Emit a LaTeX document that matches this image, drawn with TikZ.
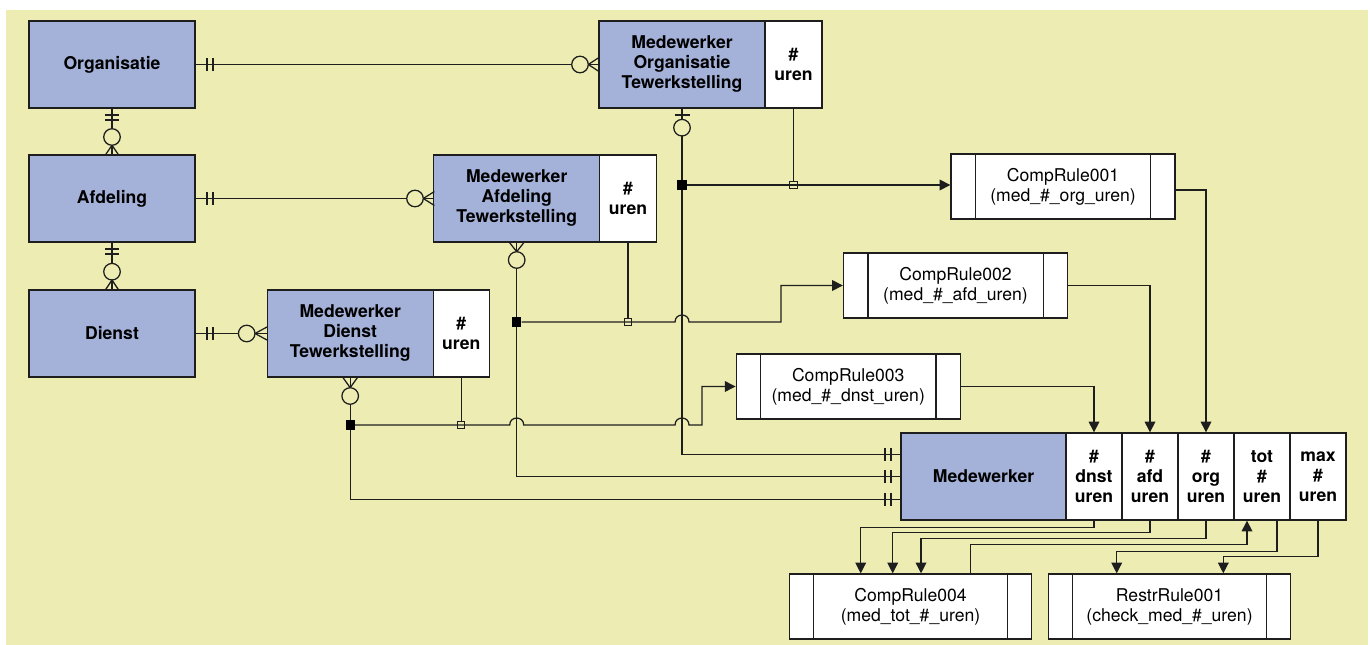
\documentclass[tikz,border=0pt]{standalone}
\usepackage{fontspec}
\setmainfont{TeX Gyre Heros}
\usetikzlibrary{arrows.meta,calc}
\definecolor{bgc}{RGB}{237,237,179}
\definecolor{entc}{RGB}{164,178,218}
\definecolor{linec}{RGB}{30,30,30}
\tikzset{
  base/.style={draw=linec, line width=1pt, inner sep=0pt, align=center, text=black, font=\fontsize{13.2}{15}\selectfont},
  ent/.style={base, fill=entc, font=\fontsize{13.2}{15}\selectfont\bfseries, minimum height=65.25pt},
  attr/.style={base, fill=white, font=\fontsize{13.2}{15}\selectfont\bfseries, minimum height=65.25pt},
  rulebox/.style={base, fill=white, minimum height=48.75pt},
  conn/.style={draw=linec, line width=0.95pt},
  arr/.style={conn, -{Triangle[length=8pt,width=8pt]}},
  crow/.style={draw=linec, line width=0.95pt},
  jfull/.style={fill=black, inner sep=0pt, minimum size=6.8pt},
  jhollow/.style={draw=linec, line width=0.7pt, inner sep=0pt, minimum size=5.6pt},
}
\newcommand\barsh[2]{\draw[crow] (#1,#2-6.5) -- (#1,#2+6.5);}
\newcommand\barsv[2]{\draw[crow] (#1-7,#2) -- (#1+7,#2);}
\newcommand\ringat[2]{\draw[crow,fill=bgc] (#1,#2) circle[radius=6.2pt];}
\begin{document}
\begin{tikzpicture}[x=0.75pt,y=-0.75pt]
\useasboundingbox (0,0) rectangle (1370,645);
\fill[white] (0,0) rectangle (1370,645);
\fill[bgc] (6,10) rectangle (1368,645);

% entities
\node[ent, minimum width=124.5pt] (org) at (112,64.5) {Organisatie};
\node[ent, minimum width=124.5pt] (afd) at (112,198.5) {Afdeling};
\node[ent, minimum width=124.5pt] (dienst) at (112,333.5) {Dienst};

\node[ent, minimum width=124.5pt] (mote) at (682,64.5) {Medewerker\\Organisatie\\Tewerkstelling};
\node[attr, minimum width=42.75pt] (motw) at (793.5,64.5) {\#\\uren};
\node[ent, minimum width=124.5pt] (mate) at (516.7,198.5) {Medewerker\\Afdeling\\Tewerkstelling};
\node[attr, minimum width=42.45pt] (matw) at (628,198.5) {\#\\uren};
\node[ent, minimum width=124.5pt] (mdte) at (350.2,333.5) {Medewerker\\Dienst\\Tewerkstelling};
\node[attr, minimum width=42pt] (mdtw) at (461.2,333.5) {\#\\uren};

\node[ent, minimum width=123.75pt] (med) at (983.5,476.5) {Medewerker};
\node[attr, minimum width=42pt] (meddnst) at (1094,476.5) {\#\\dnst\\uren};
\node[attr, minimum width=42pt] (medafd) at (1150,476.5) {\#\\afd\\uren};
\node[attr, minimum width=42pt] (medorg) at (1206,476.5) {\#\\org\\uren};
\node[attr, minimum width=42pt] (medtot) at (1262,476.5) {tot\\\#\\uren};
\node[attr, minimum width=42pt] (medmax) at (1318,476.5) {max\\\#\\uren};

% rules
\node[rulebox, minimum width=168pt] (cr1) at (1063,186.5) {CompRule001\\(med\_\#\_org\_uren)};
\node[rulebox, minimum width=168pt] (cr2) at (955.5,285.5) {CompRule002\\(med\_\#\_afd\_uren)};
\node[rulebox, minimum width=168pt] (cr3) at (848.2,386.5) {CompRule003\\(med\_\#\_dnst\_uren)};
\node[rulebox, minimum width=181.8pt] (cr4) at (910.5,606.5) {CompRule004\\(med\_tot\_\#\_uren)};
\node[rulebox, minimum width=181.8pt] (rr1) at (1169.5,606.5) {RestrRule001\\(check\_med\_\#\_uren)};
\foreach \n in {cr1,cr2,cr3,cr4,rr1}{
  \draw[line width=1pt, draw=linec] ([xshift=18.75pt]\n.north west) -- ([xshift=18.75pt]\n.south west);
  \draw[line width=1pt, draw=linec] ([xshift=-18.75pt]\n.north east) -- ([xshift=-18.75pt]\n.south east);
}

% junction points
\node[jfull] (j1) at (682,185) {};
\node[jfull] (j2) at (516.7,322) {};
\node[jfull] (j3) at (350.2,425) {};
\node[jhollow] (h1) at (793.5,185) {};
\node[jhollow] (h2) at (628,322) {};
\node[jhollow] (h3) at (461.2,425) {};

% relationships
\draw[conn] (org.east) -- (mote.west |- org.east);
\draw[conn] (org.south) -- (afd.north);
\draw[conn] (afd.east) -- (mate.west |- afd.east);
\draw[conn] (afd.south) -- (dienst.north);
\draw[conn] (dienst.east) -- (mdte.west |- dienst.east);

\draw[conn] (mote.south) |- ([yshift=16.5pt]med.west);
\draw[conn] (mate.south) |- (med.west);
\draw[conn] (mdte.south) |- ([yshift=-17.25pt]med.west);

\draw[conn] (motw.south) -- (h1.north);
\draw[conn] (matw.south) -- (h2.north);
\draw[conn] (mdtw.south) -- (h3.north);

% flows to computation rules
\draw[arr] (j1) -- (cr1.west |- j1);
\draw[arr] (j2) -- (675,322) .. controls (675,312.7) and (689,312.7) .. (689,322) -- (781,322) |- (cr2.west);
\draw[arr] (j3) -- (509.7,425) .. controls (509.7,415.7) and (523.7,415.7) .. (523.7,425)
  -- (675,425) .. controls (675,415.7) and (689,415.7) .. (689,425) -- (702,425) |- (cr3.west);

\draw[arr] ([yshift=-2.6pt]cr1.east) -| (medorg.north);
\draw[arr] (cr2.east) -| (medafd.north);
\draw[arr] (cr3.east) -| (meddnst.north);

\draw[arr] (meddnst.south) -- ++(0,6.5) -| ([xshift=-37.35pt]cr4.north);
\draw[arr] (medafd.south) -- ++(0,12) -| ([xshift=-13.35pt]cr4.north);
\draw[arr] (medorg.south) -- ++(0,18) -| ([xshift=7.9pt]cr4.north);
\draw[arr] ([xshift=45.15pt]cr4.north) -- ++(0,-29) -| ([xshift=-11.25pt]medtot.south);
\draw[arr] ([xshift=11.25pt]medtot.south) -- ++(0,31) -| ([xshift=-39.6pt]rr1.north);
\draw[arr] (medmax.south) -- ++(0,36) -| ([xshift=40.35pt]rr1.north);

% cardinality markers
\barsh{207}{64.5}\barsh{213}{64.5}
\ringat{580}{64.5}
\draw[crow] (588.3,64.5) -- (599,57.5) (588.3,64.5) -- (599,71.5);

\barsh{207}{198.5}\barsh{213}{198.5}
\ringat{415}{198.5}
\draw[crow] (423.3,198.5) -- (434.4,191.5) (423.3,198.5) -- (434.4,205.5);

\barsh{207}{333.5}\barsh{213}{333.5}
\ringat{246.7}{333.5}
\draw[crow] (255,333.5) -- (267.9,326.5) (255,333.5) -- (267.9,340.5);

\barsv{112}{115}\barsv{112}{120}
\ringat{112}{137}
\draw[crow] (112,145.3) -- (105,155.5) (112,145.3) -- (119,155.5);

\barsv{112}{249}\barsv{112}{254}
\ringat{112}{271.7}
\draw[crow] (112,280) -- (105,290.5) (112,280) -- (119,290.5);

\draw[crow] (674.5,115) -- (689.5,115);
\ringat{682}{127.7}

\draw[crow] (516.7,251.7) -- (508.7,241.5) (516.7,251.7) -- (524.7,241.5);
\ringat{516.7}{260}

\draw[crow] (350.2,387.7) -- (342.2,376.5) (350.2,387.7) -- (358.2,376.5);
\ringat{350.2}{396}

\foreach \yy in {454.5,476.5,499.5}{\barsh{885}{\yy}\barsh{891}{\yy}}

% redraw junctions on top
\node[jfull] at (j1) {};
\node[jfull] at (j2) {};
\node[jfull] at (j3) {};
\end{tikzpicture}
\end{document}
